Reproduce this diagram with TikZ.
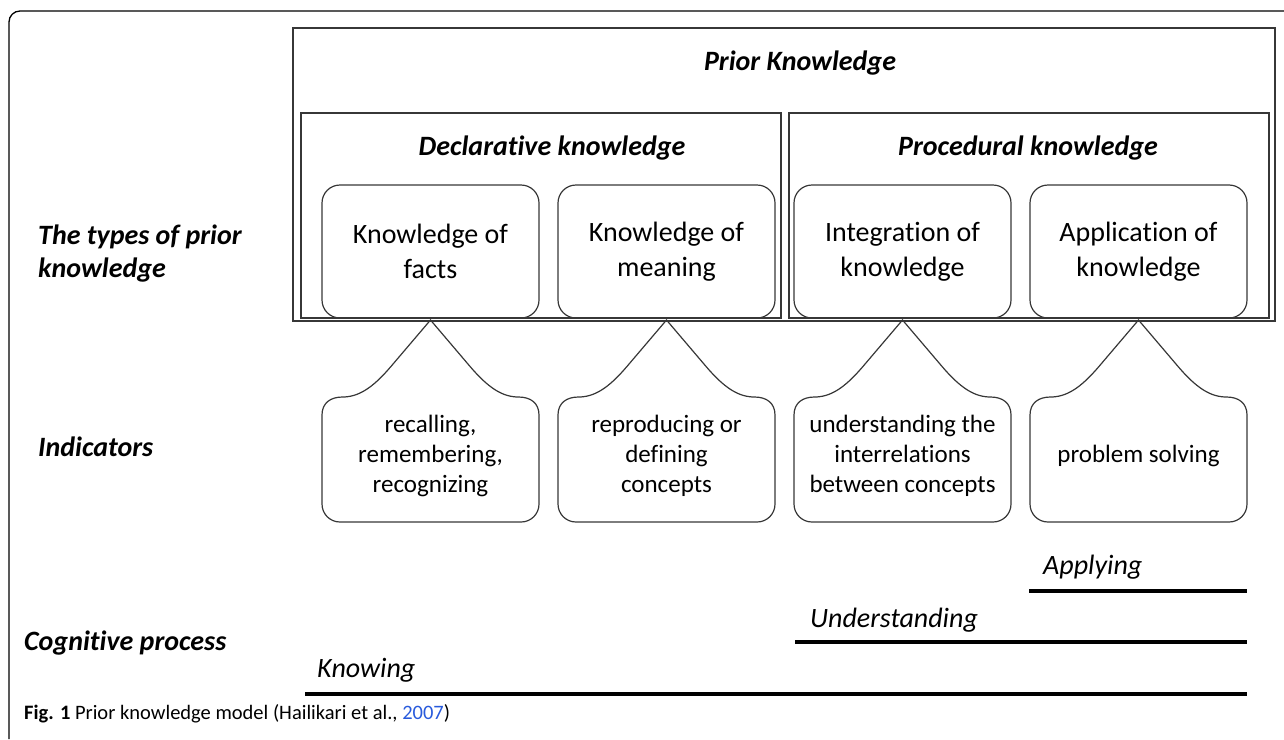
\documentclass[tikz,border=0pt]{standalone}
\usepackage{fontspec}
\setmainfont{Carlito}[Ligatures=NoCommon]
\definecolor{linkblue}{RGB}{40,90,220}
\definecolor{boxgray}{RGB}{55,55,55}
\newcommand\mycallout[2]{%
  \draw[boxline, shift={(#1,0)}] (0,320) -- (-40,367)
    .. controls (-58,388) and (-72,397) .. (-88,397)
    .. controls (-100,397) and (-108.5,403) .. (-108.5,415)
    -- (-108.5,#2-18)
    .. controls (-108.5,#2-8) and (-100.5,#2) .. (-90.5,#2)
    -- (90.5,#2)
    .. controls (100.5,#2) and (108.5,#2-8) .. (108.5,#2-18)
    -- (108.5,415)
    .. controls (108.5,403) and (100,397) .. (88,397)
    .. controls (72,397) and (58,388) .. (40,367) -- cycle;}
\begin{document}
\begin{tikzpicture}[x=1pt,y=-1pt,
  boxline/.style={draw=boxgray, line width=1.2pt},
  sqbox/.style={boxline, inner sep=0pt},
  kbox/.style={boxline, rounded corners=18pt, inner sep=0pt, minimum width=217pt, minimum height=133pt,
    font=\fontsize{28}{35}\selectfont, align=center},
  ind/.style={font=\fontsize{25}{30}\selectfont, align=center},
  hdr/.style={font=\fontsize{28}{33}\selectfont\bfseries\itshape},
  lab/.style={font=\fontsize{28}{33}\selectfont\bfseries\itshape, anchor=west, align=left, inner sep=0pt},
  proc/.style={font=\fontsize{28}{33}\selectfont\itshape, anchor=west, inner sep=0pt},
  bar/.style={line width=4.5pt}]
\useasboundingbox (0,0) rectangle (1284,739);
% outer frame
\draw[line width=1.3pt, rounded corners=11pt] (9,739) -- (9,11) -- (1284,11);
% main boxes
\node[sqbox, minimum width=982pt, minimum height=293pt] (pk) at (784,174.5) {};
\node[hdr] (pkt) at (800,63) {Prior Knowledge};
\node[sqbox, minimum width=480pt, minimum height=205pt] (dk) at (541,215.5) {};
\node[hdr] (dkt) at (552,148) {Declarative knowledge};
\node[sqbox, minimum width=480pt, minimum height=205pt] (pr) at (1029,215.5) {};
\node[hdr] (prt) at (1028,148) {Procedural knowledge};
% knowledge types
\node[kbox] (kf) at (430.5,251.5) {Knowledge of\\facts};
\node[kbox] (km) at (666.5,251.5) {Knowledge of\\meaning};
\node[kbox] (ik) at (902.5,251.5) {Integration of\\knowledge};
\node[kbox] (ak) at (1138.5,251.5) {Application of\\knowledge};
% callouts
\mycallout{430.5}{522}
\mycallout{666.5}{522}
\mycallout{902.5}{522}
\mycallout{1138.5}{522}
\node[ind] (i1) at (430.5,456) {recalling,\\remembering,\\recognizing};
\node[ind] (i2) at (666.5,456) {reproducing or\\defining\\concepts};
\node[ind] (i3) at (902.5,456) {understanding the\\interrelations\\between concepts};
\node[ind] (i4) at (1138.5,456) {problem solving};
% left labels
\node[lab] (l1) at (38,254) {The types of prior\\knowledge};
\node[lab] (l2) at (38,447) {Indicators};
\node[lab] (l3) at (24,643) {Cognitive process};
% cognitive process bars
\node[proc] (ap) at (1043,567) {Applying};
\node[proc] (un) at (810,620) {Understanding};
\node[proc] (kn) at (317,670) {Knowing};
\coordinate (a1) at (1029,591); \coordinate (a2) at (1247,591);
\coordinate (u1) at (795,642); \coordinate (u2) at (1247,642);
\coordinate (k1) at (305,694); \coordinate (k2) at (1247,694);
\draw[bar] (a1) -- (a2);
\draw[bar] (u1) -- (u2);
\draw[bar] (k1) -- (k2);
% caption
\node[anchor=west, inner sep=0pt, font=\fontsize{20.5}{24}\selectfont] (cap) at (24,714)
  {\textbf{Fig. 1} Prior knowledge model (Hailikari et al., \textcolor{linkblue}{2007})};
\end{tikzpicture}
\end{document}
